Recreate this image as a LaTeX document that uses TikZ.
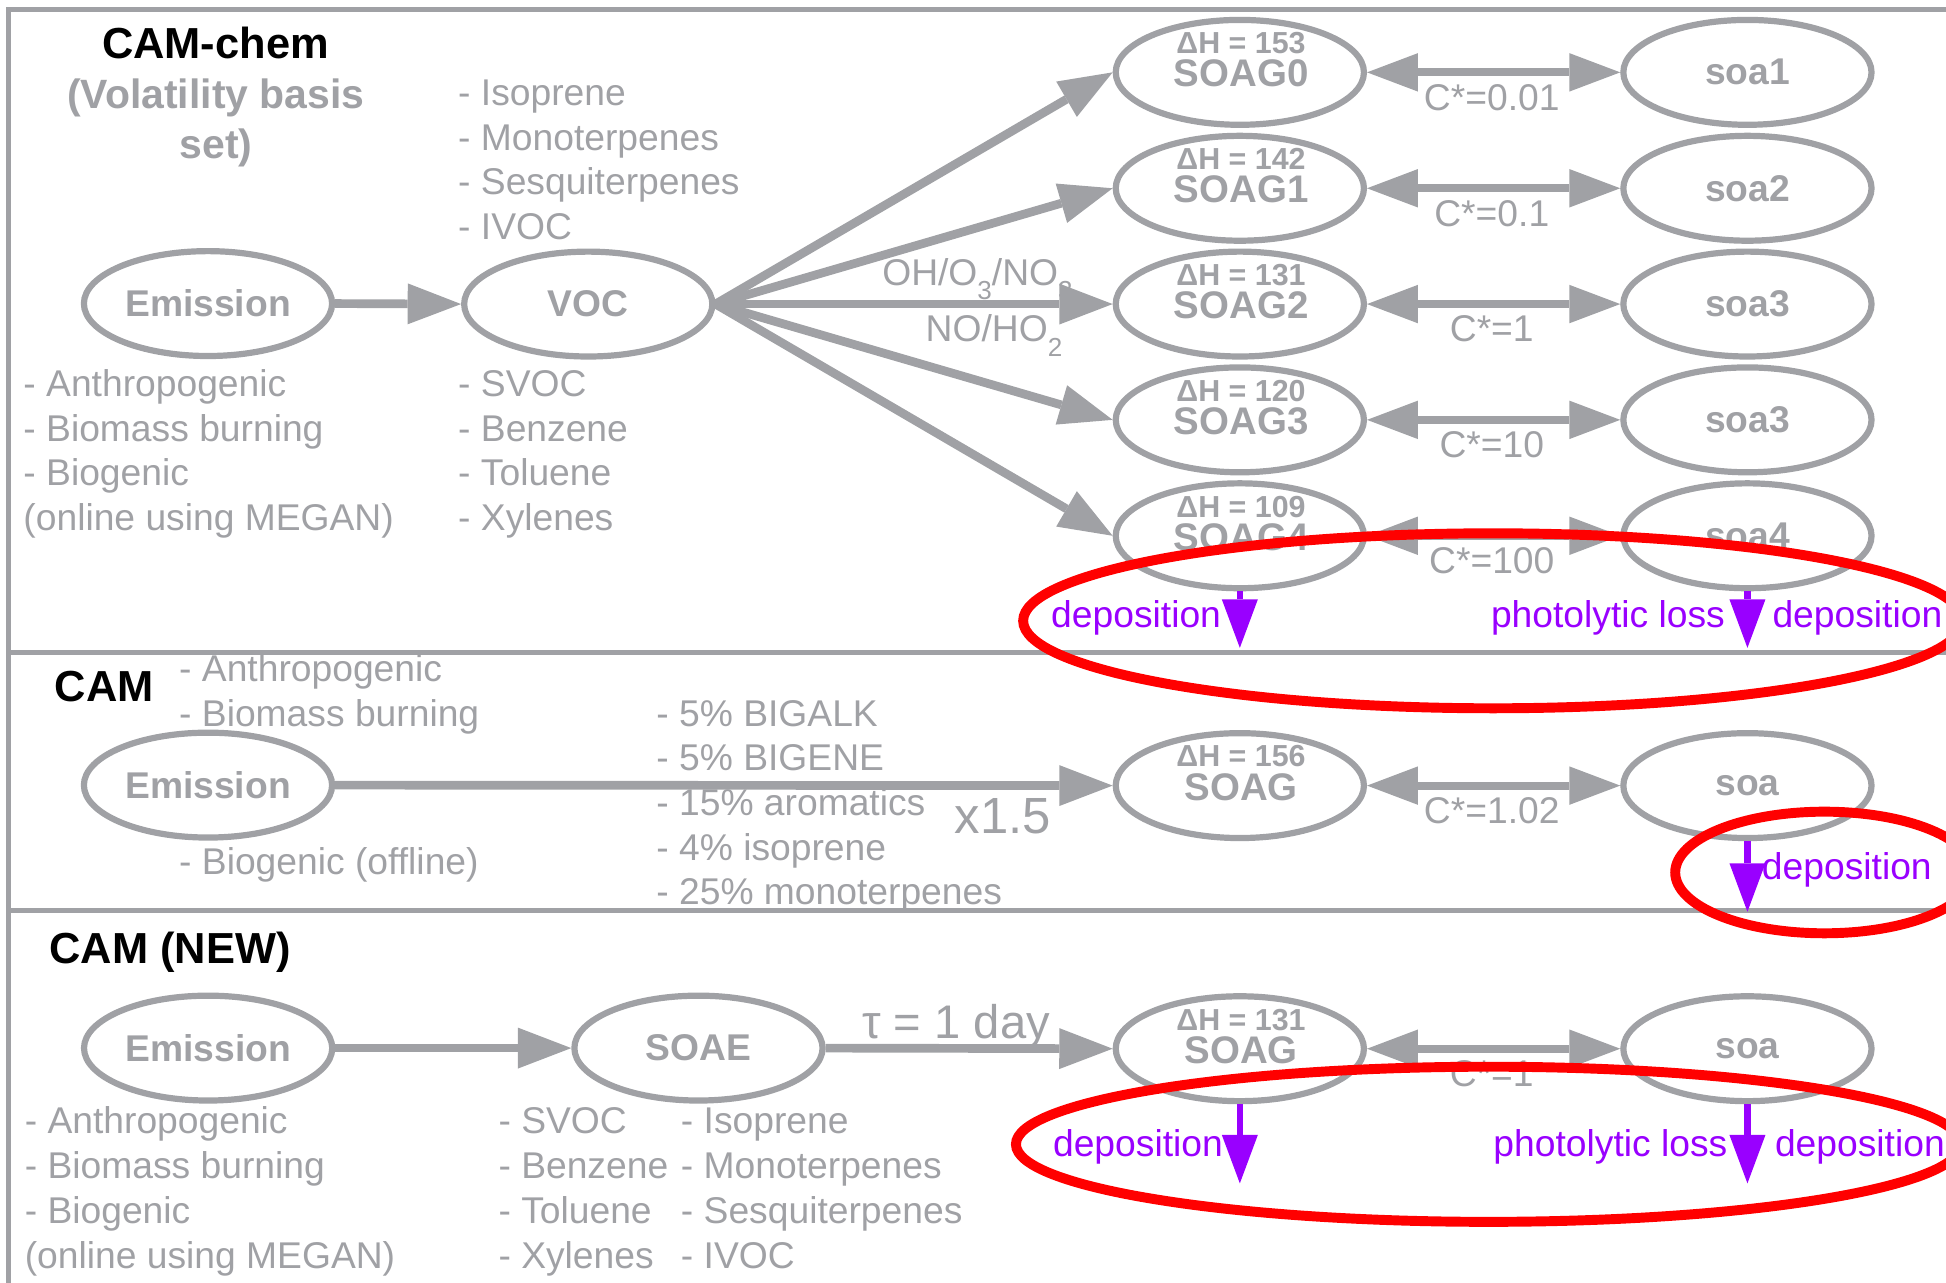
\documentclass[tikz,border=0pt]{standalone}
\usepackage{fontspec}
\setmainfont{Liberation Sans}
\usetikzlibrary{arrows.meta,shapes.geometric}

\definecolor{pathgray}{RGB}{160,161,165}
\definecolor{lossviolet}{RGB}{153,0,255}
\definecolor{markred}{RGB}{255,0,0}

\newcommand{\fsz}[1]{\fontsize{#1}{#1}\selectfont}
\newcommand{\lowidx}[1]{\raisebox{-12pt}{\fsz{21}#1}}

\tikzset{
  bubble/.style={ellipse, draw=pathgray, line width=5pt, minimum width=200pt,
    minimum height=84.5pt, inner sep=0pt, text=pathgray, font=\fsz{30}\bfseries},
  flow/.style={draw=pathgray, line width=7pt,
    -{Triangle[length=43pt,width=33pt,line width=0pt]}},
  equil/.style={draw=pathgray, line width=6.5pt,
    {Triangle[length=41pt,width=31pt,line width=0pt]}-{Triangle[length=41pt,width=31pt,line width=0pt]}},
  loss/.style={draw=lossviolet, line width=5pt,
    -{Triangle[length=39pt,width=29pt,line width=0pt]}},
  graynote/.style={text=pathgray, font=\fsz{30}, inner sep=0pt, anchor=base west},
  lossnote/.style={text=lossviolet, font=\fsz{30}, inner sep=0pt},
  heading/.style={text=black, font=\fsz{35}\bfseries, inner sep=0pt, anchor=base west},
  subhead/.style={text=pathgray, font=\fsz{33}\bfseries, inner sep=0pt, anchor=base},
  enthalpy/.style={text=pathgray, font=\fsz{24.5}\bfseries, inner sep=0pt, anchor=base},
  species/.style={text=pathgray, font=\fsz{31}\bfseries, inner sep=0pt, anchor=base},
  ring/.style={draw=markred, line width=8pt},
  panelrule/.style={draw=pathgray, line width=4pt, line join=miter},
}

\begin{document}
\begin{tikzpicture}[x=1pt, y={(0pt,-1pt)}]
\useasboundingbox (0,0) rectangle (1568,1033);
\clip (0,0) rectangle (1568,1033);

% ---------- panel 1: CAM-chem ----------
\node[heading, anchor=base] (hdA) at (173.6,47.5) {CAM-chem};
\node[subhead] (hdA1) at (174,87.8) {(Volatility basis};
\node[subhead] (hdA2) at (174,128) {set)};
\foreach \t [count=\i] in {Isoprene,Monoterpenes,Sesquiterpenes,IVOC}
  \node[graynote] (vocup\i) at (369,{84.9+36*(\i-1)}) {- \t};
\foreach \t [count=\i] in {- Anthropogenic,- Biomass burning,- Biogenic,{(online using MEGAN)}}
  \node[graynote] (srcA\i) at (18.7,{319.4+36*(\i-1)}) {\t};
\foreach \t [count=\i] in {SVOC,Benzene,Toluene,Xylenes}
  \node[graynote] (voclow\i) at (369,{319.4+36*(\i-1)}) {- \t};
\node[graynote] (oxid) at (710.7,229.7) {OH/O\lowidx{3}/NO\lowidx{3}};
\node[graynote] (nox) at (745.7,275.3) {NO/HO\lowidx{2}};

% ---------- panel 2: CAM ----------
\node[heading] (hdB) at (44,565.4) {CAM};
\node[graynote] (srcB1) at (144.2,549.3) {- Anthropogenic};
\node[graynote] (srcB2) at (144.2,585.3) {- Biomass burning};
\node[graynote] (srcB3) at (144.2,705) {- Biogenic (offline)};
\foreach \t [count=\i] in {5\% BIGALK,5\% BIGENE,15\% aromatics,4\% isoprene,25\% monoterpenes}
  \node[graynote] (mix\i) at (528.7,{585+36*(\i-1)}) {- \t};
\node[graynote, font=\fsz{41}] (scale) at (769,671.4) {x1.5};

% ---------- panel 3: CAM (NEW) ----------
\node[heading] (hdC) at (39.6,776) {CAM (NEW)};
\foreach \t [count=\i] in {- Anthropogenic,- Biomass burning,- Biogenic,{(online using MEGAN)}}
  \node[graynote] (srcC\i) at (19.8,{913+36.3*(\i-1)}) {\t};
\foreach \t [count=\i] in {SVOC,Benzene,Toluene,Xylenes}
  \node[graynote] (soaeA\i) at (401.5,{913+36.3*(\i-1)}) {- \t};
\foreach \t [count=\i] in {Isoprene,Monoterpenes,Sesquiterpenes,IVOC}
  \node[graynote] (soaeB\i) at (548.5,{913+36.3*(\i-1)}) {- \t};
\node[graynote, font=\fsz{38}] (tau) at (694.5,836.6) {τ = 1 day};

% ---------- panel frame ----------
\draw[panelrule] (7,1040) -- (7,7.4) -- (1580,7.4);
\draw[panelrule] (7,525.5) -- (1580,525.5);
\draw[panelrule] (7,733.8) -- (1580,733.8);

% ---------- panel 1 graph ----------
\node[bubble] (emA) at (167.6,244.6) {Emission};
\node[bubble] (voc) at (474,245) {VOC};
\draw[flow] (emA.east) -- (voc.west);
\foreach \y/\dh/\cs/\sa [count=\i from 0] in
  {58.3/153/0.01/soa1, 151.7/142/0.1/soa2, 245/131/1/soa3, 338.3/120/10/soa3, 431.7/109/100/soa4} {
  \node[graynote, anchor=base] (cst\i) at (1202,{\y+30.5}) {C*=\cs};
  \node[bubble] (g\i) at (999,\y) {};
  \node[enthalpy] (dh\i) at (1000,{\y-15}) {ΔH = \dh};
  \node[species] (sg\i) at (1000,{\y+11.7}) {SOAG\i};
  \node[bubble] (s\i) at (1408,\y) {\sa};
  \draw[equil] (g\i.east) -- (s\i.west);
  \draw[flow] (voc.east) -- (g\i.west);
}
\coordinate (g4d) at (999,522);
\coordinate (s4d) at (1408,522);
\draw[loss] (g4.south) -- (g4d);
\draw[loss] (s4.south) -- (s4d);
\node[lossnote, anchor=base east] (depA1) at (984,505.8) {deposition};
\node[lossnote, anchor=base east] (photA) at (1390,506) {photolytic loss};
\node[lossnote, anchor=base west] (depA2) at (1428,506) {deposition};

% ---------- panel 2 graph ----------
\node[bubble] (emB) at (167.6,632.6) {Emission};
\node[bubble] (g5) at (999,633) {};
\node[enthalpy] (dh5) at (1000,618) {ΔH = 156};
\node[species] (sg5) at (1000,644.7) {SOAG};
\node[bubble] (s5) at (1408,633) {soa};
\draw[flow] (emB.east) -- (g5.west);
\node[graynote, anchor=base] (cst5) at (1202,663.5) {C*=1.02};
\draw[equil] (g5.east) -- (s5.west);
\coordinate (s5d) at (1408,734.6);
\draw[loss] (s5.south) -- (s5d);
\node[lossnote, anchor=base west] (depB) at (1419.5,709) {deposition};

% ---------- panel 3 graph ----------
\node[bubble] (emC) at (167.7,844.5) {Emission};
\node[bubble] (soae) at (562.8,844.5) {SOAE};
\node[bubble] (g6) at (999,845) {};
\node[enthalpy] (dh6) at (1000,830) {ΔH = 131};
\node[species] (sg6) at (1000,856.7) {SOAG};
\node[bubble] (s6) at (1408,845) {soa};
\draw[flow] (emC.east) -- (soae.west);
\draw[flow] (soae.east) -- (g6.west);
\node[graynote, anchor=base] (cst6) at (1202,875.5) {C*=1};
\draw[equil] (g6.east) -- (s6.west);
\coordinate (g6d) at (999,953.5);
\coordinate (s6d) at (1408,953.5);
\draw[loss] (g6.south) -- (g6d);
\draw[loss] (s6.south) -- (s6d);
\node[lossnote, anchor=base east] (depC1) at (985.5,931.5) {deposition};
\node[lossnote, anchor=base east] (photC) at (1392,932) {photolytic loss};
\node[lossnote, anchor=base west] (depC2) at (1430,932) {deposition};

% ---------- highlighted loss processes ----------
\draw[ring] (1203,500.2) ellipse [x radius=378.6pt, y radius=70.5pt];
\draw[ring] (1470,703) ellipse [x radius=120.2pt, y radius=49pt];
\draw[ring] (1199.4,922) ellipse [x radius=380.8pt, y radius=62.5pt];
\end{tikzpicture}
\end{document}
